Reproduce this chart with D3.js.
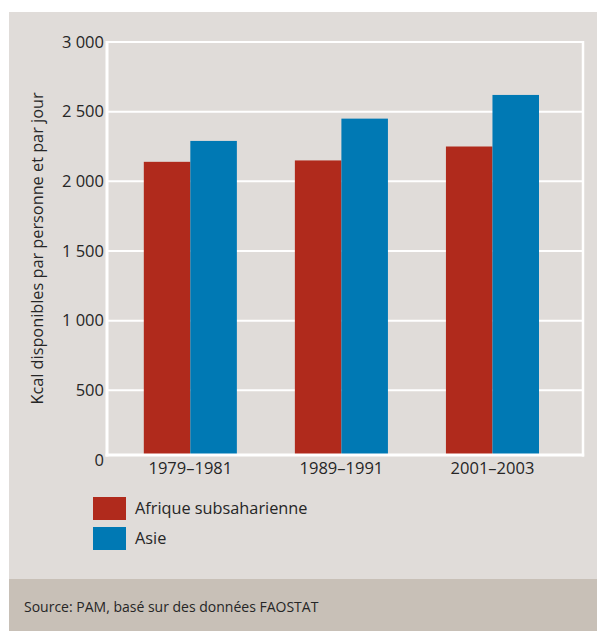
<!DOCTYPE html>
<html>
<head>
<meta charset="utf-8">
<script src="https://cdn.jsdelivr.net/npm/d3@7"></script>
<style>
  html, body { margin: 0; padding: 0; background: #ffffff; }
  svg { display: block; }
  text { font-family: "Open Sans", "Noto Sans", sans-serif; fill: #262626; }
</style>
</head>
<body>
<svg id="chart" width="597" height="631"></svg>
<script>
// Periods on the x axis
const periods = ["1979–1981", "1989–1991", "2001–2003"];
// Series names (legend order)
const seriesNames = ["Afrique subsaharienne", "Asie"];
// Kcal available per person per day
const afrique = [2140, 2150, 2250];
const asie = [2290, 2450, 2620];
// Y tick values
const yTicks = [0, 500, 1000, 1500, 2000, 2500, 3000];
const seriesColors = ["#b02a1c", "#0079b4"];

const fmt = v => d3.format(",")(v).replace(/,/g, " ");

const svg = d3.select("#chart");
const W = 597, H = 631;

// Background panel and footer strip
svg.append("rect").attr("x", 9).attr("y", 12).attr("width", W - 9).attr("height", 567).attr("fill", "#e0dcd9");
svg.append("rect").attr("x", 9).attr("y", 579).attr("width", W - 9).attr("height", H - 579).attr("fill", "#c8c0b7");

const plotLeft = 107, plotRight = 583;
const y = d3.scaleLinear().domain([0, 3000]).range([460, 42]);
// the axis line sits just above the zero position
const baseY = y(0) - 5;

const x0 = d3.scaleBand().domain(periods).range([114.8, 568]).paddingInner(0.384).paddingOuter(0.192);
const x1 = d3.scaleBand().domain(seriesNames).range([0, x0.bandwidth()]);

const g = svg.append("g");

// Horizontal gridlines
g.selectAll("line.grid").data(yTicks.filter(t => t > 0)).join("line")
  .attr("class", "grid")
  .attr("x1", plotLeft).attr("x2", plotRight)
  .attr("y1", d => y(d)).attr("y2", d => y(d))
  .attr("stroke", "#ffffff").attr("stroke-width", 2);

// Bars
const rows = periods.map((p, i) => ({ period: p, values: [afrique[i], asie[i]] }));
const groups = g.selectAll("g.group").data(rows).join("g")
  .attr("transform", d => `translate(${x0(d.period)},0)`);
groups.selectAll("rect").data(d => d.values.map((v, j) => ({ name: seriesNames[j], v, j }))).join("rect")
  .attr("x", d => x1(d.name))
  .attr("width", x1.bandwidth())
  .attr("y", d => y(d.v))
  .attr("height", d => baseY - y(d.v))
  .attr("fill", d => seriesColors[d.j]);

// Frame: left and right verticals, baseline
g.append("line").attr("x1", plotLeft).attr("x2", plotLeft).attr("y1", y(3000) - 1).attr("y2", baseY + 1.5)
  .attr("stroke", "#ffffff").attr("stroke-width", 3);
g.append("line").attr("x1", plotRight).attr("x2", plotRight).attr("y1", y(3000) - 1).attr("y2", baseY + 1.5)
  .attr("stroke", "#ffffff").attr("stroke-width", 2.5);
g.append("line").attr("x1", plotLeft - 1.5).attr("x2", plotRight + 1.2).attr("y1", baseY).attr("y2", baseY)
  .attr("stroke", "#ffffff").attr("stroke-width", 3);

// Y axis labels
const yAxis = d3.axisLeft(y).tickValues(yTicks).tickFormat(fmt).tickSize(0).tickPadding(0);
const ya = svg.append("g").attr("transform", "translate(104,0)").call(yAxis);
ya.select(".domain").remove();
ya.selectAll("text").attr("font-size", 16.5).attr("fill", "#262626")
  .style("font-family", '"Open Sans", "Noto Sans", sans-serif');

// X axis labels
const xAxis = d3.axisBottom(x0).tickSize(0).tickPadding(0);
const xa = svg.append("g").attr("transform", `translate(0,${baseY + 7})`).call(xAxis);
xa.select(".domain").remove();
xa.selectAll("text").attr("font-size", 16.5).attr("fill", "#262626")
  .style("font-family", '"Open Sans", "Noto Sans", sans-serif');

// Y axis title
svg.append("text")
  .attr("transform", `translate(43,${(89 + 408) / 2}) rotate(-90)`)
  .attr("text-anchor", "middle")
  .attr("font-size", 16.3)
  .text("Kcal disponibles par personne et par jour");

// Legend
const legend = svg.append("g");
seriesNames.forEach((name, i) => {
  const ly = 497 + i * 30;
  legend.append("rect").attr("x", 93).attr("y", ly).attr("width", 33).attr("height", 23).attr("fill", seriesColors[i]);
  legend.append("text").attr("x", 135).attr("y", ly + 17).attr("font-size", 16.3).text(name);
});

// Source note
svg.append("text").attr("x", 24).attr("y", 612).attr("font-size", 14).attr("fill", "#3a3a3a")
  .text("Source: PAM, basé sur des données FAOSTAT");
</script>
</body>
</html>
